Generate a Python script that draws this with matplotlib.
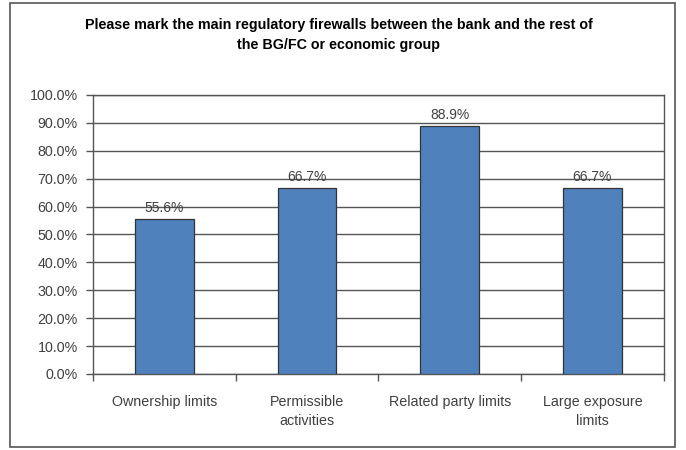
import numpy as np
import matplotlib
matplotlib.use('Agg')
import matplotlib.pyplot as plt
from matplotlib.patches import Rectangle

# categories and shares of respondents
categories = ['Ownership limits', 'Permissible\nactivities',
              'Related party limits', 'Large exposure\nlimits']
values = [55.6, 66.7, 88.9, 66.7]
yticks = np.arange(0, 101, 10)

plt.rcParams['font.family'] = ['Liberation Sans', 'DejaVu Sans']

fig = plt.figure(figsize=(6.86, 4.5), dpi=100)
ax = fig.add_axes([0.1356, 0.169, 0.832, 0.62])

# outer chart frame
fig.patches.append(Rectangle((10 / 686, 1 - 447 / 450), 665 / 686, 444 / 450,
                             transform=fig.transFigure, fill=False,
                             edgecolor='#555555', linewidth=1.2))

x = np.arange(len(categories))
ax.bar(x, values, width=0.41, color='#4F81BD', edgecolor='#333333',
       linewidth=0.9, zorder=3)
for xi, v in zip(x, values):
    ax.text(xi, v + 1.5, f'{v:.1f}%', ha='center', va='bottom',
            fontsize=10, color='#404040')

ax.set_xlim(-0.5, len(categories) - 0.5)
ax.set_ylim(0, 100)
ax.set_yticks(yticks)
ax.set_yticklabels([f'{t:.1f}%' for t in yticks], fontsize=10.3, color='#404040')
ax.yaxis.grid(True, color='#555555', linewidth=1.0, zorder=0)
ax.set_axisbelow(True)

ax.set_xticks(x)
ax.set_xticklabels(categories, fontsize=10.3, color='#404040', linespacing=1.5)
ax.tick_params(axis='x', length=0, pad=15)
# separators between categories
ax.set_xticks(np.arange(-0.5, len(categories)), minor=True)
ax.tick_params(axis='x', which='minor', length=5, color='#555555', width=1)
ax.tick_params(axis='y', length=5, color='#555555', width=1, pad=6)

for s in ax.spines.values():
    s.set_color('#555555')
    s.set_linewidth(1.0)

fig.text(0.494, 0.96, 'Please mark the main regulatory firewalls between the bank and the rest of\nthe BG/FC or economic group',
         ha='center', va='top', fontsize=10.3, fontweight='bold',
         family=['Liberation Sans Narrow', 'Liberation Sans', 'DejaVu Sans'],
         linespacing=1.55)

fig.savefig('out.png', dpi=100)
